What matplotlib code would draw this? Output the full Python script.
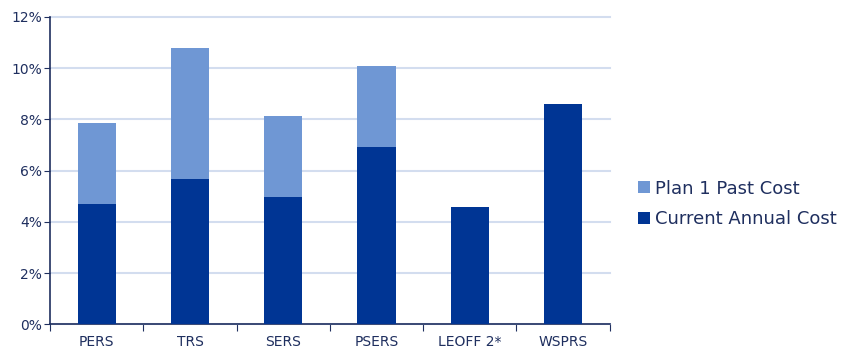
import matplotlib
matplotlib.use("Agg")
import matplotlib.pyplot as plt
import numpy as np
from matplotlib.ticker import FuncFormatter

# values (percent of pay)
systems = ["PERS", "TRS", "SERS", "PSERS", "LEOFF 2*", "WSPRS"]
current_cost = [4.69, 5.67, 4.98, 6.92, 4.56, 8.58]
plan1_past_cost = [3.16, 5.12, 3.16, 3.15, 0.0, 0.0]

dark = "#003594"
light = "#6f97d4"
navy = "#1f2f5f"

plt.rcParams["font.family"] = ["DejaVu Sans"]

fig = plt.figure(figsize=(8.48, 3.58), dpi=100)
ax = fig.add_axes([0.059, 0.094, 0.66, 0.859])

x = np.arange(len(systems))
ax.bar(x, current_cost, width=0.41, color=dark, label="Current Annual Cost", zorder=3)
ax.bar(x, plan1_past_cost, width=0.41, bottom=current_cost, color=light,
       label="Plan 1 Past Cost", zorder=3)

ax.set_xlim(-0.5, len(systems) - 0.5)
ax.set_ylim(0, 12)
ax.set_yticks(np.arange(0, 13, 2))
ax.yaxis.set_major_formatter(FuncFormatter(lambda v, p: f"{v:.0f}%"))
ax.grid(axis="y", color="#d3ddef", linewidth=1.5, zorder=0)
for gl in ax.get_ygridlines():
    gl.set_clip_on(False)

# category labels between the boundary ticks
ax.set_xticks(np.arange(-0.5, len(systems)), minor=False)
ax.set_xticklabels([])
ax.set_xticks(x, minor=True)
ax.set_xticklabels(systems, minor=True, fontsize=10, color=navy)
ax.tick_params(axis="x", which="minor", length=0, pad=8)
ax.tick_params(axis="x", which="major", length=5, direction="out", color=navy)
ax.tick_params(axis="y", length=4, direction="out", color=navy, labelcolor=navy,
               labelsize=10, pad=2)

for s in ["top", "right"]:
    ax.spines[s].set_visible(False)
for s in ["left", "bottom"]:
    ax.spines[s].set_color(navy)
    ax.spines[s].set_linewidth(1.2)

handles, labels = ax.get_legend_handles_labels()
leg = fig.legend(handles[::-1], labels[::-1], loc="center left",
                 bbox_to_anchor=(0.742, 0.43), frameon=False, fontsize=13,
                 handlelength=0.65, handleheight=0.65, handletextpad=0.3,
                 labelspacing=0.7, borderpad=0)
for t in leg.get_texts():
    t.set_color(navy)

fig.savefig("out.png", dpi=100)
